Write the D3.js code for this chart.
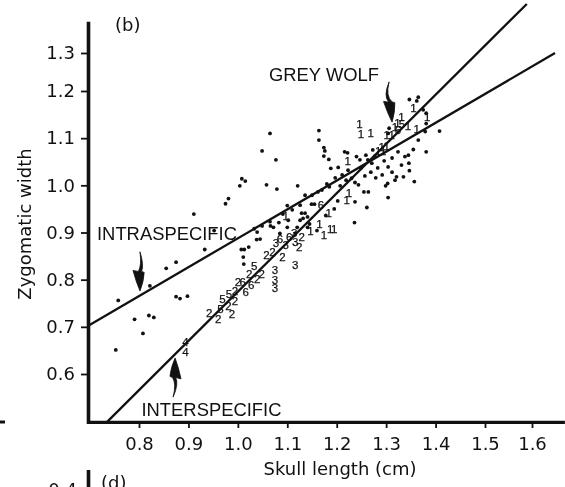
<!DOCTYPE html>
<html><head><meta charset="utf-8">
<script src="https://cdn.jsdelivr.net/npm/d3@7/dist/d3.min.js"></script>
<style>
html,body{margin:0;padding:0;background:#fff;}
svg{display:block;}
text{-webkit-font-smoothing:antialiased;}
.marks{opacity:0.995;will-change:transform;}
</style></head>
<body>
<svg id="c" width="565" height="487"></svg>
<script>
// ---------- data ----------
const xTicks = [0.8, 0.9, 1.0, 1.1, 1.2, 1.3, 1.4, 1.5, 1.6];
const yTicks = [0.6, 0.7, 0.8, 0.9, 1.0, 1.1, 1.2, 1.3];
const xAxisExtent = [0.697, 1.67];
const yAxisExtent = [0.498, 1.382];

// individual specimens (dots): [skull length, zygomatic width]
const specimenDots = [
 [0.753,0.651],[0.758,0.756],[0.791,0.716],[0.808,0.686],[0.820,0.724],[0.830,0.720],
 [0.822,0.787],[0.855,0.824],[0.875,0.837],[0.875,0.764],[0.883,0.760],[0.898,0.765],
 [0.911,0.939],[0.933,0.864],[0.952,0.904],[0.975,0.961],[0.981,0.972],[1.004,0.999],
 [1.008,1.014],[1.015,1.009],[1.007,0.864],[1.013,0.864],[1.022,0.869],[1.011,0.848],
 [1.012,0.833],[1.038,0.885],[1.045,0.886],[1.033,0.908],[1.049,1.073],[1.065,1.110],
 [1.077,1.054],[1.058,1.001],[1.079,0.992],[1.121,0.999],[1.136,0.979],[1.100,0.957],
 [1.065,0.923],[1.083,0.921],[1.100,0.911],[1.085,0.898],[1.066,0.914],[1.072,0.911],
 [1.102,0.926],[1.129,0.941],[1.136,0.941],[1.132,0.930],[1.141,0.933],[1.126,0.926],
 [1.145,0.918],[1.160,0.904],[1.141,0.911],[1.120,0.911],[1.116,0.898],[1.149,0.960],
 [1.155,0.960],[1.178,0.936],[1.195,0.950],[1.202,0.967],[1.237,0.965],[1.261,0.953],
 [1.236,0.921],[1.164,1.116],[1.164,1.096],[1.174,1.080],[1.176,1.073],[1.174,1.062],
 [1.184,1.055],[1.188,1.036],[1.203,1.038],[1.216,1.071],[1.222,1.069],[1.240,1.061],
 [1.304,0.974],[1.347,1.182],[1.365,1.187],[1.362,1.179],[1.375,1.160],[1.381,1.153],
 [1.365,1.096],[1.355,1.076],[1.345,1.064],[1.346,1.047],[1.357,1.008],[1.335,1.018],
 [1.303,1.004],[1.408,1.115],[1.379,1.114],[1.381,1.131],[1.381,1.071],[1.338,1.061],
 [1.347,1.031],[1.331,1.043],[1.321,1.018],[1.318,1.011],[1.299,0.999],[1.264,0.986],
 [1.255,0.986],[1.244,1.001],[1.180,1.003],[1.185,0.997],[1.230,1.015],[1.237,1.006],
 [1.306,1.121],[1.304,1.110],
 [1.263,1.054],[1.271,1.047],[1.277,1.062],[1.283,1.037],[1.269,1.028],[1.292,1.022],
 [1.296,1.052],[1.257,1.020],[1.279,1.016],[1.249,1.037],[1.304,1.039],[1.312,1.028],
 [1.273,1.075],[1.247,1.054],[1.259,1.064],[1.312,1.058],[1.324,1.071],[1.211,1.022],
 [1.219,1.011],[1.207,0.999],[1.197,1.016],[1.223,1.032],[1.150,0.979],[1.162,0.986],
 [1.170,0.990],[1.126,0.958],[1.110,0.948],[1.091,0.939],[1.049,0.914],[1.039,0.901]
];

// species means (numbered): [skull length, zygomatic width, label]
const speciesMarks = [
 [0.894,0.668,"4"],[0.894,0.647,"4"],
 [0.942,0.729,"2"],[0.960,0.717,"2"],[0.965,0.738,"5"],[0.969,0.758,"5"],[0.981,0.744,"2"],
 [0.988,0.727,"2"],[0.994,0.755,"2"],[0.982,0.770,"5"],[0.994,0.777,"2"],[1.000,0.794,"2"],
 [1.010,0.794,"6"],[1.016,0.774,"6"],[1.027,0.788,"6"],[1.023,0.813,"2"],[1.039,0.802,"2"],
 [1.048,0.813,"2"],[1.033,0.829,"5"],[1.058,0.852,"2"],[1.070,0.858,"2"],[1.090,0.847,"2"],
 [1.075,0.820,"3"],[1.075,0.799,"3"],[1.075,0.782,"3"],[1.116,0.831,"3"],[1.077,0.877,"3"],
 [1.097,0.873,"3"],[1.085,0.886,"6"],[1.104,0.891,"6"],[1.114,0.898,"3"],[1.116,0.880,"3"],
 [1.129,0.891,"2"],[1.124,0.870,"2"],[1.168,0.958,"6"],
 [1.097,0.936,"1"],[1.184,0.941,"1"],[1.165,0.917,"1"],[1.147,0.904,"1"],[1.174,0.894,"1"],
 [1.187,0.908,"1"],[1.195,0.908,"1"],[1.225,0.983,"1"],[1.220,0.968,"1"],[1.222,1.052,"1"],
 [1.246,1.130,"1"],[1.249,1.109,"1"],[1.269,1.110,"1"],[1.331,1.145,"1"],[1.355,1.163,"1"],
 [1.383,1.145,"1"],[1.362,1.119,"1"],[1.323,1.133,"1"],[1.318,1.124,"1"],[1.332,1.130,"5"],
 [1.344,1.126,"1"],[1.324,1.117,"6"],[1.301,1.107,"1"],[1.311,1.107,"1"],[1.291,1.082,"1"],
 [1.301,1.083,"1"],[1.284,1.073,"1"],[1.294,1.073,"1"]
];

// regression lines: endpoints [skull length, zygomatic width]
const intraspecificLine = [[0.700,0.704],[1.649,1.300]];
const interspecificLine = [[0.735,0.498],[1.589,1.429]];

// annotations: text anchor and arrows (tail -> tip) in data units
const labels = [
 {text:"GREY WOLF", x:1.063, y:1.226},
 {text:"INTRASPECIFIC", x:0.715, y:0.884},
 {text:"INTERSPECIFIC", x:0.805, y:0.511}
];
const arrows = [
 {tail:[1.306,1.224], tip:[1.312,1.134], bulge:6, w:7},
 {tail:[0.802,0.859], tip:[0.802,0.776], bulge:-3, w:7},
 {tail:[0.869,0.551], tip:[0.873,0.634], bulge:4, w:7}
];

// ---------- scales ----------
const x = d3.scaleLinear().domain([0.8, 1.5, 1.6]).range([139, 485, 532]);
const y = d3.scaleLinear().domain([0.6, 1.2, 1.3]).range([374, 91, 53]);

const svg = d3.select("#c");
const tickFont = "'DejaVu Sans', sans-serif";
const ink = "#111";

// regression lines
const line = d3.line().x(d => x(d[0])).y(d => y(d[1]));
[intraspecificLine, interspecificLine].forEach(l => {
  svg.append("path").attr("d", line(l)).attr("fill","none")
     .attr("stroke",ink).attr("stroke-width",2.3);
});

// dots
svg.append("g").selectAll("circle").data(specimenDots).join("circle")
  .attr("cx", d => x(d[0])).attr("cy", d => y(d[1])).attr("r", 1.9).attr("fill", ink);

// numbered marks
svg.append("g").attr("class","marks").selectAll("text").data(speciesMarks).join("text")
  .attr("x", d => x(d[0])).attr("y", d => y(d[1]) + 4)
  .attr("text-anchor","middle")
  .attr("font-family","'Liberation Sans', Arial, sans-serif")
  .attr("font-size", 11.5).attr("fill",ink)
  .attr("stroke",ink).attr("stroke-width",0.25)
  .text(d => d[2]);

// axes lines
svg.append("line").attr("x1", x(xAxisExtent[0])).attr("x2", x(xAxisExtent[1]))
  .attr("y1", 422.3).attr("y2", 422.3).attr("stroke",ink).attr("stroke-width",3.3);
svg.append("line").attr("x1", 88.5).attr("x2", 88.5)
  .attr("y1", y(yAxisExtent[1])).attr("y2", y(yAxisExtent[0]) + 2)
  .attr("stroke",ink).attr("stroke-width",3.6);

// x axis ticks
const xAxis = d3.axisBottom(x).tickValues(xTicks).tickSize(5).tickPadding(9)
  .tickFormat(d3.format(".1f"));
const gx = svg.append("g").attr("transform","translate(0,423)").call(xAxis);
gx.select(".domain").remove();
gx.selectAll(".tick line").attr("stroke",ink).attr("stroke-width",1.8);
gx.selectAll(".tick text").attr("font-family",tickFont).attr("font-size",18)
  .attr("fill",ink);

// y axis ticks
const yAxis = d3.axisLeft(y).tickValues(yTicks).tickSize(6).tickPadding(6)
  .tickFormat(d3.format(".1f"));
const gy = svg.append("g").attr("transform","translate(87,0)").call(yAxis);
gy.select(".domain").remove();
gy.selectAll(".tick line").attr("stroke",ink).attr("stroke-width",1.8);
gy.selectAll(".tick text").attr("font-family",tickFont).attr("font-size",18)
  .attr("fill",ink);

// axis titles
svg.append("text").attr("x", 340).attr("y", 474.5).attr("text-anchor","middle")
  .attr("font-family",tickFont).attr("font-size",18).attr("fill",ink)
  .text("Skull length (cm)");
svg.append("text").attr("transform","translate(30.7,224) rotate(-90)")
  .attr("text-anchor","middle")
  .attr("font-family",tickFont).attr("font-size",18).attr("fill",ink)
  .text("Zygomatic width");

// panel label
svg.append("text").attr("x",115).attr("y",31).attr("font-family",tickFont)
  .attr("font-size",18).attr("fill",ink).text("(b)");

// annotations
svg.append("g").selectAll("text").data(labels).join("text")
  .attr("x", d => x(d.x)).attr("y", d => y(d.y))
  .attr("font-family","'Liberation Sans', Arial, sans-serif").attr("font-size",18.4)
  .attr("fill",ink).text(d => d.text);

function arrowPath(a){
  const T = [x(a.tail[0]), y(a.tail[1])], P = [x(a.tip[0]), y(a.tip[1])];
  const dx = P[0]-T[0], dy = P[1]-T[1], L = Math.hypot(dx,dy);
  const d = [dx/L, dy/L], n = [-d[1], d[0]];
  const h = 0.5*L, w = a.w;
  const pt = (base, along, side) => [base[0]+d[0]*along+n[0]*side, base[1]+d[1]*along+n[1]*side];
  const C1 = pt(T, L*0.35, a.bulge+1.2);
  const C2 = pt(T, L*0.35, a.bulge-1.2);
  const A1 = pt(P, -h, 1.6), BL = pt(P, -h*1.05, w), A2 = pt(P, -h, -1.6), BR = pt(P, -h*0.95, -w*0.6);
  return `M${T[0]},${T[1]} Q${C1[0]},${C1[1]} ${A1[0]},${A1[1]} L${BL[0]},${BL[1]} `+
         `Q${pt(P,-h*0.45,w*0.55).join(",")} ${P[0]},${P[1]} `+
         `Q${pt(P,-h*0.5,-w*0.55).join(",")} ${BR[0]},${BR[1]} L${A2[0]},${A2[1]} `+
         `Q${C2[0]},${C2[1]} ${T[0]},${T[1]} Z`;
}
svg.append("g").selectAll("path").data(arrows).join("path")
  .attr("d", arrowPath).attr("fill",ink).attr("stroke",ink).attr("stroke-width",0.8);

// fragments of neighbouring panels
svg.append("line").attr("x1",0).attr("x2",5).attr("y1",422).attr("y2",422)
  .attr("stroke",ink).attr("stroke-width",3);
svg.append("line").attr("x1",88.5).attr("x2",88.5).attr("y1",470).attr("y2",487)
  .attr("stroke",ink).attr("stroke-width",3.6);
svg.append("text").attr("x",101).attr("y",489).attr("font-family",tickFont)
  .attr("font-size",18).attr("fill",ink).text("(d)");
svg.append("text").attr("x",77).attr("y",496).attr("text-anchor","end").attr("font-family",tickFont)
  .attr("font-size",18).attr("fill",ink).text("0.4");
</script>
</body></html>
